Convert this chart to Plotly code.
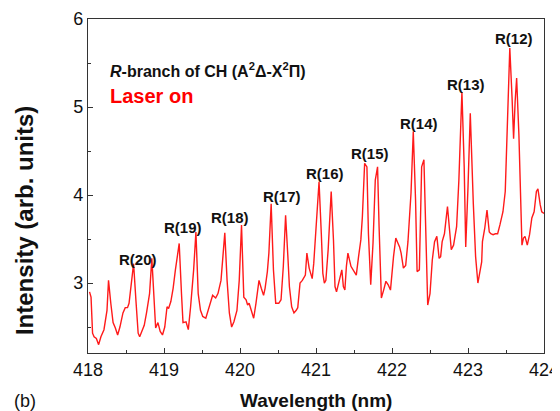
import plotly.graph_objects as go

wavelength = [418.02, 418.04, 418.06, 418.08, 418.11, 418.14, 418.17, 418.21, 418.25, 418.27,
              418.30, 418.33, 418.36, 418.39, 418.42, 418.46, 418.49, 418.52, 418.54, 418.57,
              418.60, 418.63, 418.66, 418.68, 418.71, 418.74, 418.77, 418.81, 418.84, 418.87,
              418.89, 418.92, 418.95, 418.98, 419.01, 419.04, 419.06, 419.09, 419.12, 419.15,
              419.20, 419.23, 419.25, 419.29, 419.32, 419.35, 419.39, 419.42, 419.45, 419.48,
              419.51, 419.55, 419.58, 419.61, 419.64, 419.68, 419.71, 419.75, 419.80, 419.83,
              419.86, 419.89, 419.92, 419.96, 419.99, 420.02, 420.05, 420.08, 420.10, 420.12,
              420.14, 420.18, 420.21, 420.25, 420.28, 420.31, 420.33, 420.36, 420.38, 420.41,
              420.44, 420.47, 420.51, 420.54, 420.57, 420.60, 420.63, 420.65, 420.68, 420.71,
              420.74, 420.76, 420.79, 420.82, 420.86, 420.88, 420.91, 420.95, 420.97, 421.00,
              421.04, 421.07, 421.09, 421.11, 421.13, 421.16, 421.20, 421.23, 421.25, 421.27,
              421.30, 421.32, 421.34, 421.36, 421.38, 421.40, 421.42, 421.46, 421.49, 421.53,
              421.56, 421.59, 421.61, 421.64, 421.67, 421.69, 421.72, 421.75, 421.78, 421.81,
              421.83, 421.86, 421.89, 421.92, 421.95, 421.98, 422.02, 422.05, 422.08, 422.10,
              422.12, 422.15, 422.18, 422.21, 422.25, 422.28, 422.31, 422.33, 422.36, 422.39,
              422.42, 422.44, 422.47, 422.50, 422.53, 422.56, 422.59, 422.62, 422.64, 422.66,
              422.69, 422.73, 422.75, 422.78, 422.81, 422.85, 422.88, 422.92, 422.95, 422.97,
              423.00, 423.03, 423.07, 423.10, 423.13, 423.16, 423.18, 423.19, 423.22, 423.25,
              423.28, 423.30, 423.33, 423.36, 423.39, 423.42, 423.46, 423.49, 423.51, 423.53,
              423.55, 423.58, 423.60, 423.62, 423.64, 423.67, 423.69, 423.71, 423.73, 423.75,
              423.78, 423.81, 423.84, 423.87, 423.90, 423.92, 423.95, 423.97, 424.00]

intensity = [2.90, 2.84, 2.43, 2.39, 2.37, 2.30, 2.39, 2.47, 2.69, 3.03,
             2.77, 2.55, 2.49, 2.41, 2.50, 2.66, 2.72, 2.72, 2.77, 3.00,
             3.22, 2.81, 2.43, 2.39, 2.45, 2.52, 2.66, 2.88, 3.28, 2.79,
             2.49, 2.55, 2.45, 2.41, 2.50, 2.73, 2.71, 2.79, 2.94, 3.15,
             3.45, 2.88, 2.55, 2.56, 2.47, 2.73, 3.15, 3.58, 2.88, 2.69,
             2.62, 2.60, 2.69, 2.79, 2.86, 2.83, 2.88, 3.03, 3.57, 3.03,
             2.66, 2.50, 2.56, 2.69, 3.03, 3.66, 2.84, 2.81, 2.75, 2.77,
             2.72, 2.60, 2.77, 3.03, 2.94, 2.86, 2.94, 3.13, 3.34, 3.90,
             3.15, 2.77, 2.77, 2.81, 3.19, 3.77, 3.30, 2.96, 2.73, 2.66,
             2.69, 2.72, 3.00, 3.03, 3.09, 3.34, 3.17, 3.05, 3.22, 3.68,
             4.15, 3.56, 3.11, 3.00, 3.03, 3.38, 4.04, 3.49, 2.96, 2.90,
             3.02, 3.07, 3.15, 2.96, 2.92, 3.19, 3.34, 3.19, 3.15, 3.09,
             3.30, 3.49, 3.75, 4.36, 4.32, 3.56, 2.98, 3.45, 4.17, 4.32,
             3.64, 2.83, 2.92, 3.02, 2.98, 2.92, 3.30, 3.51, 3.45, 3.41,
             3.34, 3.17, 3.20, 3.47, 4.02, 4.72, 3.94, 3.13, 3.15, 4.32,
             4.40, 3.64, 2.75, 2.88, 3.26, 3.47, 3.53, 3.28, 3.30, 3.47,
             3.56, 3.87, 3.64, 3.38, 3.43, 3.64, 4.17, 5.17, 4.32, 3.41,
             4.09, 4.93, 3.90, 3.30, 3.00, 3.17, 3.24, 3.47, 3.62, 3.83,
             3.58, 3.56, 3.55, 3.56, 3.56, 3.66, 3.81, 4.04, 4.53, 5.21,
             5.67, 5.10, 4.64, 5.06, 5.33, 4.68, 3.92, 3.43, 3.51, 3.53,
             3.43, 3.55, 3.74, 3.81, 4.04, 4.07, 3.89, 3.81, 3.79]

line_labels = ["R(20)", "R(19)", "R(18)", "R(17)", "R(16)", "R(15)", "R(14)", "R(13)", "R(12)"]
label_x = [418.66, 419.25, 419.87, 420.55, 421.12, 421.71, 422.35, 422.97, 423.60]
label_y = [3.27, 3.63, 3.75, 3.98, 4.24, 4.47, 4.81, 5.26, 5.78]

x_ticks = [418, 419, 420, 421, 422, 423, 424]
y_ticks = [3, 4, 5, 6]

FONT = "Liberation Sans, Arial"

fig = go.Figure()
fig.add_trace(go.Scatter(x=wavelength, y=intensity, mode="lines",
                         line=dict(color="#ff1a1a", width=1.4), showlegend=False))

for t, lx, ly in zip(line_labels, label_x, label_y):
    fig.add_annotation(x=lx, y=ly, text="<b>%s</b>" % t, showarrow=False,
                       xanchor="center", yanchor="middle",
                       font=dict(family=FONT, size=15, color="#111111"))

fig.add_annotation(xref="paper", yref="paper", x=0.044, y=0.847, xanchor="left", yanchor="middle",
                   text="<b><i>R</i>-branch of CH (A<sup>2</sup>Δ-X<sup>2</sup>Π)</b>", showarrow=False,
                   font=dict(family=FONT, size=16, color="#111111"))
fig.add_annotation(xref="paper", yref="paper", x=0.044, y=0.769, xanchor="left", yanchor="middle",
                   text="<b>Laser on</b>", showarrow=False,
                   font=dict(family=FONT, size=20, color="#ff0000"))
fig.add_annotation(xref="paper", yref="paper", x=-0.138, y=-0.144, xanchor="center", yanchor="middle",
                   text="(b)", showarrow=False,
                   font=dict(family=FONT, size=18, color="#111111"))
fig.add_annotation(xref="paper", yref="paper", x=0.5, y=-0.141, xanchor="center", yanchor="middle",
                   text="<b>Wavelength (nm)</b>", showarrow=False,
                   font=dict(family=FONT, size=19, color="#111111"))
fig.add_annotation(xref="paper", yref="paper", x=-0.1404, y=0.398, xanchor="center", yanchor="middle",
                   text="<b>Intensity (arb. units)</b>", showarrow=False, textangle=-90,
                   font=dict(family=FONT, size=24, color="#111111"))

axis_common = dict(showgrid=False, zeroline=False, showline=True, linecolor="#333333", linewidth=1.3,
                   mirror=True, ticks="inside", ticklen=5, tickwidth=1.2, tickcolor="#333333",
                   automargin=False,
                   tickfont=dict(family=FONT, size=18, color="#111111"))

fig.update_xaxes(range=[418, 424], tickvals=x_ticks, ticktext=[str(v) for v in x_ticks],
                 minor=dict(ticks="inside", ticklen=3, dtick=0.5, tick0=418, tickcolor="#333333", tickwidth=1.2),
                 **axis_common)
fig.update_yaxes(range=[2.205, 6], tickvals=y_ticks, ticktext=[str(v) for v in y_ticks],
                 minor=dict(ticks="inside", ticklen=3, dtick=0.5, tick0=2.5, tickcolor="#333333", tickwidth=1.2),
                 **axis_common)

# page body has an 8px default margin: figure is 552x403 placed at (8, 8)
fig.update_layout(width=552, height=403, margin=dict(l=80, r=16, t=11, b=58),
                  plot_bgcolor="white", paper_bgcolor="white")

fig.write_html("out.html")
